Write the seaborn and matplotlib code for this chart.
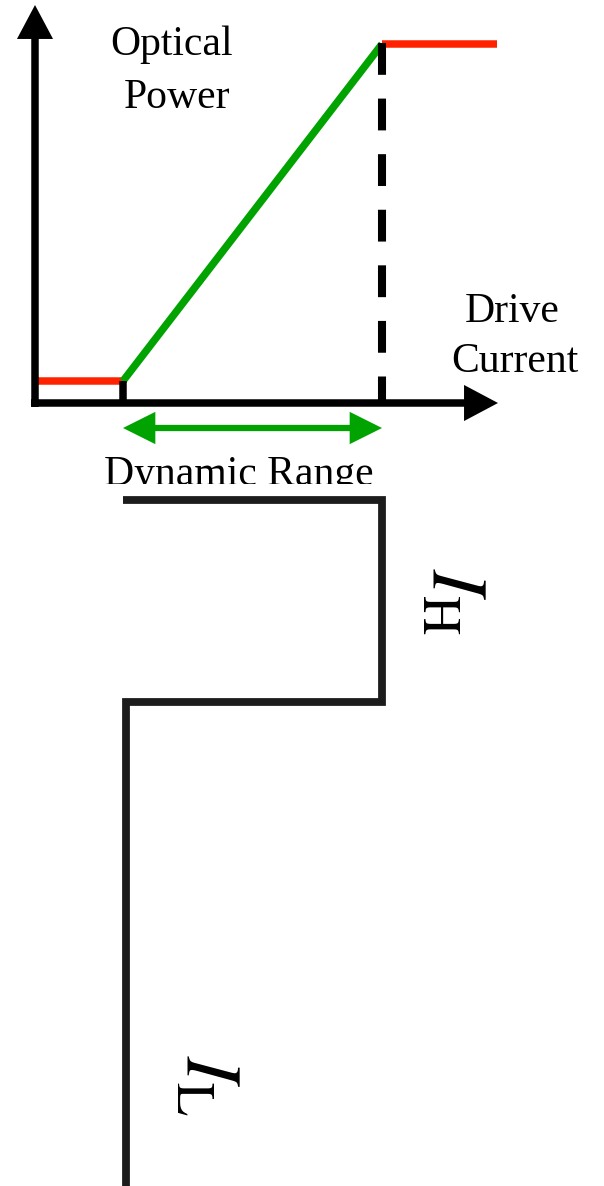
import matplotlib
matplotlib.use("Agg")
import matplotlib.pyplot as plt
import seaborn as sns

# diagram coordinates (pixel-like units, y grows downward)
axis_origin = [35, 403]
axis_x_end = 498
axis_y_end = 5

threshold_x = 123
saturation_x = 382
low_level = 381
high_level = 44
saturation_end = 497

low_x = [axis_origin[0], threshold_x]
low_y = [low_level, low_level]
ramp_x = [threshold_x, saturation_x]
ramp_y = [low_level, high_level]
high_x = [saturation_x, saturation_end]
high_y = [high_level, high_level]
tick_x = [threshold_x, threshold_x]
tick_y = [low_level, axis_origin[1]]
dash_x = [saturation_x, saturation_x]
dash_y = [43, axis_origin[1]]

range_y = 428

wave_x = [123, 382, 382, 126, 126]
wave_y = [500, 500, 702, 702, 1190]

sns.set_theme(style="white")
plt.rcParams['font.family'] = ['Liberation Serif', 'DejaVu Serif']
plt.rcParams['mathtext.fontset'] = 'stix'
plt.rcParams['lines.solid_capstyle'] = 'butt'

fig = plt.figure(figsize=(6.04, 11.86), dpi=100)
ax = fig.add_axes([0, 0, 1, 1])
ax.set_xlim(0, 604)
ax.set_ylim(1186, 0)
ax.axis('off')

red = '#ff2200'
green = '#00a300'
lw = 5.4

# axes with arrows
arrow_kw = dict(arrowstyle='-|>,head_length=16,head_width=8.5', color='black',
                lw=lw, shrinkA=0, shrinkB=0, mutation_scale=1, capstyle='butt', joinstyle='miter')
ax.annotate('', xy=(axis_x_end, axis_origin[1]), xytext=(31, axis_origin[1]), arrowprops=arrow_kw)
ax.annotate('', xy=(axis_origin[0], axis_y_end), xytext=(axis_origin[0], 407), arrowprops=arrow_kw)

# transfer curve
line_kw = dict(ax=ax, lw=lw, sort=False, estimator=None, solid_capstyle='butt')
sns.lineplot(x=low_x, y=low_y, color=red, **line_kw)
sns.lineplot(x=high_x, y=high_y, color=red, **line_kw)
sns.lineplot(x=ramp_x, y=ramp_y, color=green, **line_kw)
sns.lineplot(x=tick_x, y=tick_y, color='black', **line_kw)
sns.lineplot(x=dash_x, y=dash_y, ax=ax, color='black', lw=5.8, sort=False, estimator=None,
             linestyle=(0, (3.95, 2.95)), dash_capstyle='butt')

# dynamic range arrow
ax.annotate('', xy=(saturation_x, range_y), xytext=(threshold_x, range_y),
            arrowprops=dict(arrowstyle='<|-|>,head_length=16,head_width=8', color=green,
                            lw=4.5, shrinkA=0, shrinkB=0, mutation_scale=1,
                            capstyle='butt', joinstyle='miter'))

# labels
fs = 30
ax.text(172, 55, 'Optical', ha='center', va='baseline', fontsize=fs, color='black')
ax.text(177, 108, 'Power', ha='center', va='baseline', fontsize=fs, color='black')
ax.text(512, 322, 'Drive', ha='center', va='baseline', fontsize=fs, color='black')
ax.text(515, 372, 'Current', ha='center', va='baseline', fontsize=fs, color='black')
ax.text(239, 485, 'Dynamic Range', ha='center', va='baseline', fontsize=fs, color='black', zorder=1)

# lower panel covers the bottom of the label
ax.axhspan(483.5, 1186, color='white', zorder=2, lw=0)

sns.lineplot(x=wave_x, y=wave_y, ax=ax, color='#1c1c1c', lw=5.6, sort=False, estimator=None,
             zorder=3, solid_capstyle='butt', solid_joinstyle='miter')

ax.text(451, 601, r'$I_{\mathrm{H}}$', rotation=-90, ha='center', va='center',
        fontsize=56, color='black', zorder=4)
ax.text(205, 1085, r'$I_{\mathrm{L}}$', rotation=-90, ha='center', va='center',
        fontsize=56, color='black', zorder=4)

fig.savefig('out.png', dpi=100)
